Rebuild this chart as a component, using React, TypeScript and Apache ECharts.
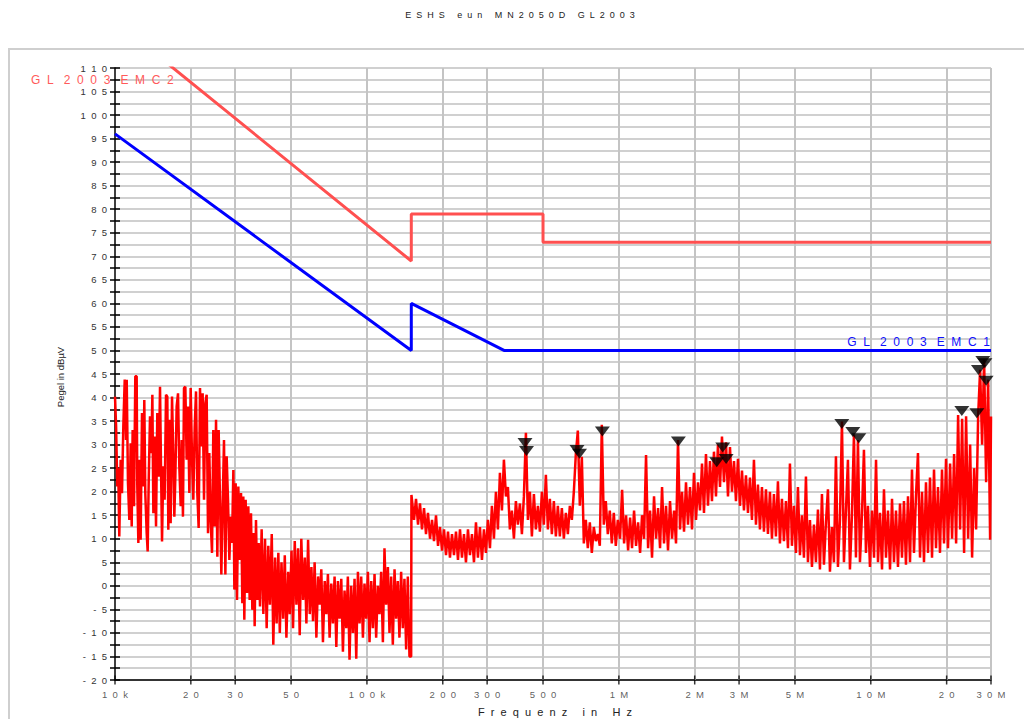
import { useEffect, useRef } from "react";
import * as echarts from "echarts";

const TITLE = "ESHS eun MN2050D GL2003";
const X_NAME = "Frequenz in Hz";
const Y_NAME = "Pegel in dBµV";
const EMC2_NAME = "GL 2003 EMC2";
const EMC1_NAME = "GL 2003 EMC1";

// frequencies in kHz
const xTickFreqs = [10, 20, 30, 50, 100, 200, 300, 500, 1000, 2000, 3000, 5000, 10000, 20000, 30000];
const xTickLabels = ["10k", "20", "30", "50", "100k", "200", "300", "500", "1M", "2M", "3M", "5M", "10M", "20", "30M"];

const emc2Freq = [10, 150, 150, 500, 500, 30000];
const emc2Level = [120, 69, 79, 79, 73, 73];
const emc1Freq = [10, 150, 150, 350, 30000];
const emc1Level = [96, 50, 60, 50, 50];

const markerFreq = [424, 430, 682, 698, 860, 1723, 2446, 2585, 2665, 7672, 8483, 8960, 22980, 26360, 26750, 27840, 28360, 28700];
const markerLevel = [29.3, 27.6, 27.8, 27.0, 31.7, 29.6, 25.2, 28.3, 25.9, 33.3, 31.6, 30.3, 36.1, 35.6, 44.8, 46.7, 46.2, 42.5];

// measured trace 10 kHz - 150 kHz  [kHz, dBµV]
const traceLow: [number, number][] = [
  [10.0, 40.2], [10.1, 34], [10.21, 21.1], [10.3, 25], [10.4, 10.5], [10.53, 26.8], [10.66, 19.7], [10.79, 33.8],
  [10.93, 43.8], [11.06, 31.0], [11.13, 43.8], [11.26, 21.8], [11.4, 14.0], [11.54, 30.3], [11.65, 12.6], [11.75, 33.1],
  [11.9, 16.9], [12.04, 44.5], [12.19, 44.5], [12.26, 21.1], [12.38, 9.1], [12.49, 26.8], [12.64, 9.8], [12.8, 36.7],
  [12.96, 21.1], [13.07, 39.5], [13.19, 19.7], [13.36, 11.2], [13.48, 7.3], [13.61, 22.5], [13.77, 36.0], [13.94, 28.2],
  [14.07, 40.6], [14.2, 15.4], [14.37, 31.7], [14.55, 12.6], [14.72, 36.7], [14.91, 23.2], [15.09, 42.3], [15.22, 26.1],
  [15.37, 9.4], [15.55, 25.4], [15.74, 18.3], [15.94, 40.6], [16.13, 40.2], [16.28, 11.9], [16.43, 35.3], [16.63, 13.3],
  [16.84, 40.2], [17.04, 27.5], [17.2, 14.7], [17.36, 23.2], [17.57, 38.1], [17.79, 40.9], [18.0, 25.4], [18.23, 16.9],
  [18.39, 31.0], [18.61, 14.7], [18.79, 42.0], [19.02, 42.3], [19.25, 26.8], [19.49, 38.1], [19.73, 19.7], [19.97, 42.0],
  [20.22, 26.8], [20.46, 18.3], [20.72, 33.8], [20.97, 41.3], [21.22, 19.7], [21.48, 12.3], [21.75, 42.0], [22.01, 29.6],
  [22.28, 40.9], [22.56, 18.3], [22.83, 38.8], [23.11, 40.6], [23.4, 11.2], [23.68, 28.2], [23.97, 14.0], [24.27, 7.0],
  [24.56, 33.1], [24.87, 12.6], [25.18, 35.3], [25.48, 6.2], [25.79, 33.1], [26.11, 18.3], [26.43, 2.4], [26.75, 16.9],
  [27.08, 31.0], [27.42, 2.4], [27.75, 27.5], [28.09, 18.3], [28.44, 5.5], [28.79, 14.7], [29.14, 9.1], [29.5, 24.6],
  [29.77, -0.8], [30.13, 21.8], [30.5, -3.0], [30.87, 21.1], [31.25, 5.5], [31.64, 19.7], [32.02, -3.7], [32.31, 19.0],
  [32.61, -7.2], [33.01, 18.3], [33.42, -1.5], [33.82, 16.9], [34.24, -3.0], [34.66, 15.4], [35.08, -5.1], [35.51, 11.2],
  [35.84, -8.6], [36.28, 14.0], [36.73, -3.0], [37.18, 9.1], [37.63, -4.4], [38.2, 12], [38.8, -6], [39.4, 10],
  [40.0, -9], [40.6, 8.5], [41.2, -4], [41.9, 11], [42.5, -12.5], [43.2, 6], [43.8, -8], [44.5, 7],
  [45.1, -10], [45.8, 5], [46.5, -7], [47.2, 6.5], [47.9, -11], [48.7, 3], [49.4, -6], [50.2, 7.5],
  [50.9, -9], [51.7, 9.5], [52.5, -4], [53.3, 8], [54.1, -10.5], [54.9, 10], [55.8, -3], [56.7, 6],
  [57.5, -8], [58.4, 9.8], [59.3, -6], [60.2, 4], [61.1, -7.5], [62.0, 5], [63.0, -11], [64.0, 2],
  [64.9, -4], [65.9, 3.5], [66.9, -12], [68.0, 1], [69.0, -6], [70.0, 2.5], [71.1, -11], [72.2, 0.5],
  [73.3, -8], [74.4, 2], [75.6, -13], [76.7, 1], [77.9, -7], [79.1, 1.5], [80.3, -14], [81.5, -1],
  [82.8, -9], [84.0, 2], [85.3, -15.7], [86.6, 0], [88.0, -10], [89.3, 1.5], [90.7, -15.5], [92.1, 3],
  [93.5, -8], [94.9, 2], [96.4, -11], [97.8, 0.5], [99.3, -7], [100.9, 3], [102.4, -12], [104.0, 1],
  [105.6, -9], [107.2, 2.5], [108.8, -11], [110.5, 0], [112.2, -6], [113.9, 3], [115.7, -12], [117.4, 8],
  [119.2, -4], [121.1, 4], [122.9, -10], [124.8, 2], [126.7, -12.5], [128.7, 3.5], [130.6, -7], [132.6, 1],
  [134.6, -11], [136.7, 3], [138.8, -9], [140.9, 1.5], [143.1, -13.5], [145.3, 2], [147.5, -15], [149.8, -15],
];

// measured trace 150 kHz - 30 MHz  [kHz, dBµV]
const traceHigh: [number, number][] = [
  [150.2, 19.3], [153.8, 14], [156.6, 18.5], [159.5, 13], [162.4, 17.5], [165.4, 12], [168.5, 16.5], [171.6, 11],
  [174.7, 15.5], [178.0, 10], [181.3, 14], [184.6, 9.5], [188.0, 15], [191.5, 8.5], [195.0, 12.5], [198.6, 7.5],
  [202.3, 12], [206.0, 6.5], [209.8, 11.5], [213.6, 6], [217.6, 11], [221.6, 6.5], [225.7, 11.5], [229.8, 5.5],
  [234.1, 12], [238.4, 6], [242.8, 11], [247.2, 5], [251.8, 12], [256.4, 6.5], [261.2, 11], [266.0, 5],
  [270.9, 13.5], [275.8, 6], [280.9, 12.5], [286.1, 5.5], [291.4, 12], [296.7, 7], [302.2, 14], [307.8, 8],
  [313.4, 17], [319.2, 10], [325.1, 20], [331.1, 12], [337.2, 24], [343.4, 16], [349.7, 26.8], [356.2, 19],
  [362.7, 21], [369.4, 12], [376.2, 16], [383.2, 10], [390.2, 18], [397.4, 13], [404.8, 17.5], [412.2, 11],
  [419.8, 19], [427.6, 32.5], [435.5, 14], [443.5, 20], [451.6, 10.5], [460.0, 19.5], [468.4, 12], [477.1, 17],
  [485.9, 11.5], [494.8, 20], [503.9, 13], [513.2, 23.6], [522.7, 12], [532.3, 18.5], [542.1, 11], [552.1, 18],
  [562.3, 10.5], [572.6, 17], [583.2, 10.5], [593.9, 16.5], [604.9, 10], [616.0, 15.5], [627.4, 11], [638.9, 17],
  [650.7, 14], [662.7, 20], [674.9, 28], [687.3, 33], [700.0, 17], [712.9, 27.4], [726.0, 9], [739.4, 14],
  [753.0, 8], [766.9, 13.5], [781.0, 7], [795.4, 12.5], [810.1, 9.5], [825.0, 11], [840.2, 8.5], [855.7, 34.2],
  [871.5, 13], [887.5, 18], [903.9, 11], [920.5, 16], [937.5, 9], [954.8, 15.5], [972.4, 8.5], [990.3, 14],
  [1011, 10], [1030, 20.4], [1049, 9], [1068, 15], [1088, 7.5], [1108, 14.5], [1128, 8], [1149, 16],
  [1170, 8.5], [1192, 13.5], [1214, 7], [1236, 15], [1259, 10], [1282, 27.8], [1306, 8], [1330, 16],
  [1354, 6], [1379, 19], [1405, 10], [1431, 16.5], [1457, 8], [1484, 21], [1511, 9], [1539, 17],
  [1567, 7.5], [1596, 18], [1626, 10], [1656, 16], [1686, 9], [1717, 31], [1749, 12], [1781, 20],
  [1814, 11.5], [1847, 22], [1881, 13], [1916, 21], [1951, 12], [1987, 24], [2024, 14], [2061, 22],
  [2099, 16], [2138, 26], [2177, 15.5], [2217, 28], [2258, 17], [2300, 26.5], [2342, 18], [2385, 28.5],
  [2429, 19], [2474, 30], [2520, 21], [2566, 31.7], [2614, 22], [2662, 30.5], [2711, 19], [2761, 29.5],
  [2812, 20], [2864, 26.5], [2916, 18], [2970, 27], [3025, 17], [3081, 24.5], [3137, 16], [3195, 23.5],
  [3254, 15.5], [3314, 23], [3375, 14], [3437, 26.8], [3501, 13], [3565, 21.5], [3631, 12], [3698, 21],
  [3766, 11.5], [3836, 20.5], [3906, 11], [3978, 20], [4052, 10], [4126, 19.5], [4202, 10.5], [4280, 22.2],
  [4359, 9], [4439, 18.5], [4521, 9.5], [4605, 18], [4690, 8], [4776, 26], [4864, 8.5], [4954, 17],
  [5045, 7], [5138, 21], [5233, 6.5], [5330, 15], [5428, 6], [5528, 23.2], [5630, 5], [5734, 14],
  [5840, 4], [5948, 13], [6057, 5], [6169, 16.2], [6283, 3.5], [6399, 19.5], [6517, 4.5], [6637, 13.5],
  [6759, 20.5], [6884, 3], [7011, 12.5], [7140, 5], [7272, 27.5], [7406, 4], [7543, 14], [7682, 34.9],
  [7824, 5], [7968, 16], [8115, 26.8], [8265, 3.5], [8417, 15], [8573, 32.1], [8731, 6], [8892, 31],
  [9056, 5], [9223, 15], [9393, 28.9], [9567, 7], [9743, 17], [9923, 4], [10110, 16], [10300, 6],
  [10490, 26.8], [10680, 5], [10880, 15.5], [11080, 3.5], [11280, 20.5], [11490, 6], [11700, 16], [11920, 3.5],
  [12140, 18.5], [12360, 5], [12590, 16], [12820, 4], [13060, 17.5], [13300, 6], [13540, 18], [13790, 4.5],
  [14050, 19], [14310, 5], [14570, 24.7], [14840, 7], [15110, 19], [15390, 28.2], [15680, 6], [15970, 20],
  [16260, 5], [16560, 22], [16870, 7], [17180, 23], [17500, 6], [17820, 24.7], [18150, 8], [18480, 21],
  [18820, 7], [19170, 24.7], [19530, 9], [19890, 27], [20250, 8], [20640, 26], [21020, 10], [21410, 28],
  [21810, 9], [22210, 36.3], [22620, 12], [23040, 35.5], [23460, 7], [23890, 36], [24340, 10], [24790, 30],
  [25240, 6], [25710, 25], [26180, 12], [26670, 36], [27160, 45.9], [27660, 30], [28170, 48], [28690, 22],
  [29220, 43.8], [29760, 9.8], [30000, 36],
];

const FONT = "'Liberation Sans', Arial, sans-serif";
const NB = "\u00a0";
function spread(s: string, gap: number, wordGap: number) {
  return s
    .split(" ")
    .map((w) => Array.from(w).join(NB.repeat(gap)))
    .join(NB.repeat(wordGap));
}

export default function App() {
  const ref = useRef<HTMLDivElement>(null);
  useEffect(() => {
    if (!ref.current) return;
    const chart = echarts.init(ref.current, undefined, { renderer: "svg" });
    const trace = [...traceLow, ...traceHigh];
    const tickStyle = { color: "#000", width: 1.5 };
    const option: any = {
      animation: false,
      backgroundColor: "#ffffff",
      textStyle: { fontFamily: FONT },
      grid: { left: 115, right: 33, top: 68, bottom: 39, containLabel: false },
      xAxis: {
        type: "log",
        logBase: 10,
        min: 10,
        max: 30000,
        axisLine: { show: true, onZero: false, lineStyle: { color: "#000", width: 1.5 } },
        axisTick: { show: false },
        axisLabel: { show: false },
        splitLine: { show: false },
        minorSplitLine: { show: false },
      },
      yAxis: [
        {
          type: "value",
          min: -20,
          max: 110,
          interval: 5,
          position: "left",
          axisLine: { show: true, lineStyle: { color: "#000", width: 1.5 } },
          axisTick: { show: true, inside: false, length: 5, lineStyle: tickStyle },
          minorTick: { show: true, splitNumber: 2, length: 5, lineStyle: tickStyle },
          axisLabel: {
            fontSize: 9.5,
            color: "#333",
            margin: 8,
            fontFamily: FONT,
            formatter: (v: number) => spread(String(v), 2, 2),
          },
          splitLine: { show: true, lineStyle: { color: "#d0d0d0", width: 2 } },
          minorSplitLine: { show: true, lineStyle: { color: "#d0d0d0", width: 2 } },
        },
        {
          type: "value",
          min: -20,
          max: 110,
          interval: 5,
          position: "left",
          axisLine: { show: false },
          axisTick: { show: true, inside: true, length: 5, lineStyle: tickStyle },
          minorTick: { show: true, splitNumber: 2, length: 5, lineStyle: tickStyle },
          axisLabel: { show: false },
          splitLine: { show: false },
        },
      ],
      graphic: [
        {
          type: "rect",
          shape: { x: 9, y: 49, width: 1040, height: 700 },
          style: { fill: "none", stroke: "#cfcfcf", lineWidth: 2 },
          silent: true,
        },
        {
          type: "text",
          x: 520,
          y: 15,
          style: {
            text: spread(TITLE, 2, 5),
            fill: "#222",
            fontSize: 9,
            fontFamily: FONT,
            align: "center",
            textAlign: "center",
            verticalAlign: "middle",
            textVerticalAlign: "middle",
          },
        },
        {
          type: "text",
          x: 555,
          y: 712,
          style: {
            text: spread(X_NAME, 2, 5),
            fill: "#222",
            fontSize: 11,
            fontFamily: FONT,
            align: "center",
            textAlign: "center",
            verticalAlign: "middle",
            textVerticalAlign: "middle",
          },
        },
        {
          type: "text",
          x: 60,
          y: 377,
          rotation: Math.PI / 2,
          style: {
            text: Y_NAME,
            fill: "#222",
            fontSize: 9.5,
            fontFamily: FONT,
            align: "center",
            textAlign: "center",
            verticalAlign: "middle",
            textVerticalAlign: "middle",
          },
        },
        {
          type: "text",
          x: 31,
          y: 80,
          z: 10,
          style: {
            text: spread(EMC2_NAME, 2, 3),
            fill: "#ff5a5a",
            fontSize: 12,
            fontFamily: FONT,
            align: "left",
            textAlign: "left",
            verticalAlign: "middle",
            textVerticalAlign: "middle",
          },
        },
        {
          type: "text",
          x: 990,
          y: 342,
          z: 10,
          style: {
            text: spread(EMC1_NAME, 2, 3),
            fill: "#1010ff",
            fontSize: 12,
            fontFamily: FONT,
            align: "right",
            textAlign: "right",
            verticalAlign: "middle",
            textVerticalAlign: "middle",
          },
        },
      ],
      series: [
        {
          name: "trace",
          type: "line",
          data: trace,
          symbol: "none",
          showSymbol: false,
          lineStyle: { color: "#ff0000", width: 2.5 },
          z: 2,
          silent: true,
          markLine: {
            silent: true,
            symbol: "none",
            z: 1,
            label: { show: false },
            lineStyle: { color: "#c4c4c4", width: 2, type: "solid" },
            data: xTickFreqs.slice(1).map((f) => ({ xAxis: f })),
          },
        },
        {
          name: EMC2_NAME,
          type: "line",
          data: emc2Freq.map((f, i) => [f, emc2Level[i]]),
          symbol: "none",
          lineStyle: { color: "#ff5050", width: 3 },
          z: 3,
          silent: true,
        },
        {
          name: EMC1_NAME,
          type: "line",
          data: emc1Freq.map((f, i) => [f, emc1Level[i]]),
          symbol: "none",
          lineStyle: { color: "#0000ff", width: 3 },
          z: 3,
          silent: true,
        },
        {
          name: "markers",
          type: "scatter",
          data: markerFreq.map((f, i) => [f, markerLevel[i]]),
          symbol: "triangle",
          symbolSize: [15, 10],
          symbolRotate: 180,
          symbolOffset: [0, -5],
          itemStyle: { color: "#000" },
          clip: false,
          z: 5,
          silent: true,
        },
        {
          name: "xticks",
          type: "scatter",
          data: xTickFreqs.map((f) => [f, -20]),
          symbol: "rect",
          symbolSize: [1.5, 9],
          itemStyle: { color: "#000" },
          clip: false,
          z: 6,
          silent: true,
          label: {
            show: true,
            position: "bottom",
            distance: 5,
            fontSize: 9.5,
            color: "#333",
            fontFamily: FONT,
            formatter: (p: any) => spread(xTickLabels[p.dataIndex], 2, 2),
          },
        },
      ],
    };
    chart.setOption(option);
    return () => chart.dispose();
  }, []);
  return (
    <div
      ref={ref}
      style={{ position: "fixed", left: 0, top: 0, width: 1024, height: 719, background: "#fff" }}
    />
  );
}
